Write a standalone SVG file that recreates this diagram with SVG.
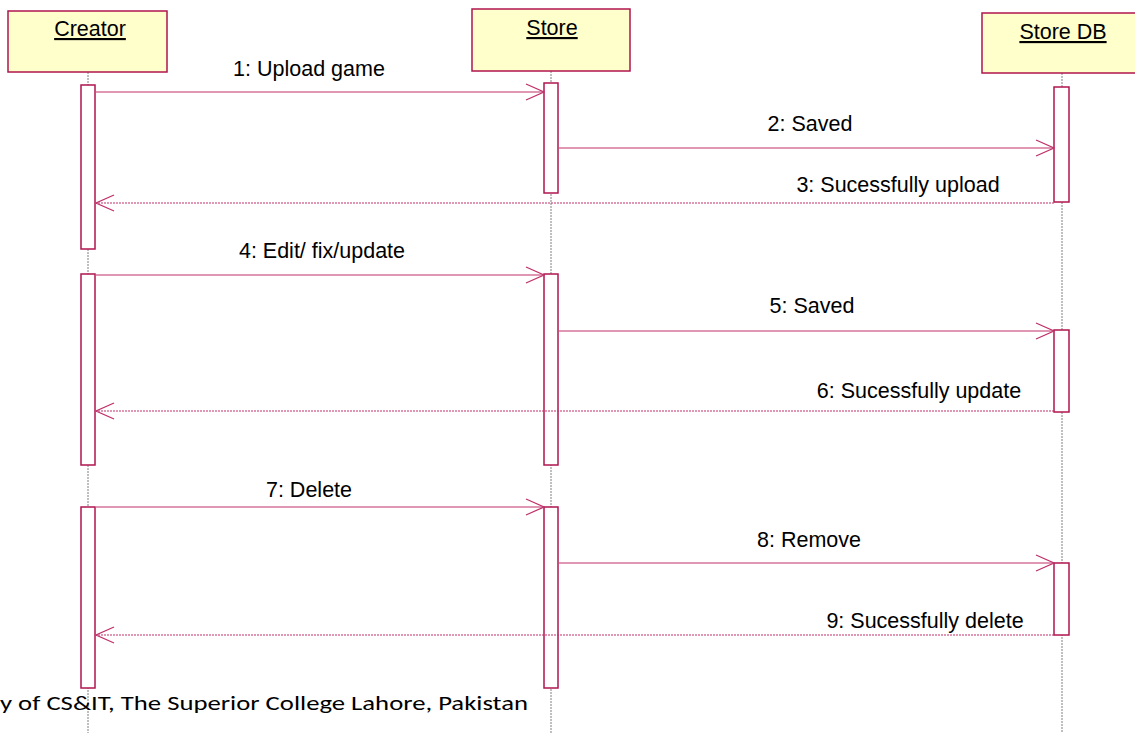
<svg xmlns="http://www.w3.org/2000/svg" width="1135" height="733" viewBox="0 0 1135 733">
<style>
.box{fill:#FFFFCC;stroke:#B0154E;stroke-width:1.5}
.act{fill:#FFFFFF;stroke:#B0154E;stroke-width:1.5}
.life{stroke:#808080;stroke-width:1;stroke-dasharray:2 1}
.hdr{font-family:"Liberation Sans",Arial,sans-serif;font-size:21.5px;fill:#000;text-anchor:middle;text-decoration:underline}
.msg{stroke:#C0306A;stroke-width:1.2;fill:none}
.ret{stroke:#C0306A;stroke-width:1.2;fill:none;stroke-dasharray:2 1}
.lbl{font-family:"Liberation Sans",Arial,sans-serif;font-size:21.5px;fill:#000;text-anchor:middle}
</style>
<defs>
<marker id="open" viewBox="0 0 20 20" refX="19" refY="10" markerWidth="20" markerHeight="20" markerUnits="userSpaceOnUse" orient="auto">
<path d="M1,2 L19,10 L1,18" fill="none" stroke="#C0306A" stroke-width="1.3"/>
</marker>
</defs>
<rect width="1135" height="733" fill="#FFFFFF"/>
<g id="lifelines">
<line class="life" x1="88" y1="72" x2="88" y2="733"/>
<line class="life" x1="551" y1="71" x2="551" y2="733"/>
<line class="life" x1="1062" y1="73" x2="1062" y2="733"/>
</g>
<g id="creator">
<rect class="box" x="8" y="11" width="159" height="61"/>
<text class="hdr" x="90" y="36">Creator</text>
<rect class="act" x="81" y="85" width="14" height="164"/>
<rect class="act" x="81" y="274" width="14" height="191"/>
<rect class="act" x="81" y="507" width="14" height="181"/>
</g>
<g id="store">
<rect class="box" x="472" y="9" width="158" height="62"/>
<text class="hdr" x="552" y="35">Store</text>
<rect class="act" x="544" y="83" width="14" height="110"/>
<rect class="act" x="544" y="274" width="14" height="191"/>
<rect class="act" x="544" y="507" width="14" height="181"/>
</g>
<g id="storedb">
<rect class="box" x="982" y="13" width="160" height="60"/>
<text class="hdr" x="1063" y="39">Store DB</text>
<rect class="act" x="1054" y="87" width="15" height="115"/>
<rect class="act" x="1054" y="330" width="15" height="82"/>
<rect class="act" x="1054" y="563" width="15" height="72"/>
</g>
<g id="connectors">
<line class="msg" x1="96" y1="92" x2="544" y2="92" marker-end="url(#open)"/>
<line class="msg" x1="559" y1="148" x2="1054" y2="148" marker-end="url(#open)"/>
<line class="ret" x1="1054" y1="203" x2="96" y2="203" marker-end="url(#open)"/>
<line class="msg" x1="96" y1="275" x2="544" y2="275" marker-end="url(#open)"/>
<line class="msg" x1="559" y1="331" x2="1054" y2="331" marker-end="url(#open)"/>
<line class="ret" x1="1054" y1="411" x2="96" y2="411" marker-end="url(#open)"/>
<line class="msg" x1="96" y1="507" x2="544" y2="507" marker-end="url(#open)"/>
<line class="msg" x1="559" y1="563" x2="1054" y2="563" marker-end="url(#open)"/>
<line class="ret" x1="1054" y1="635" x2="96" y2="635" marker-end="url(#open)"/>
</g>
<g id="labels">
<text class="lbl" x="309" y="76">1: Upload game</text>
<text class="lbl" x="810" y="131">2: Saved</text>
<text class="lbl" x="898" y="192">3: Sucessfully upload</text>
<text class="lbl" x="322" y="258">4: Edit/ fix/update</text>
<text class="lbl" x="812" y="313">5: Saved</text>
<text class="lbl" x="919" y="398">6: Sucessfully update</text>
<text class="lbl" x="309" y="497">7: Delete</text>
<text class="lbl" x="809" y="547">8: Remove</text>
<text class="lbl" x="925" y="628">9: Sucessfully delete</text>
</g>
<text x="0" y="710" font-family="Carlito,'Open Sans','Noto Sans',sans-serif" font-size="20" fill="#000" textLength="528" lengthAdjust="spacingAndGlyphs">y of CS&amp;IT, The Superior College Lahore, Pakistan</text>
</svg>
